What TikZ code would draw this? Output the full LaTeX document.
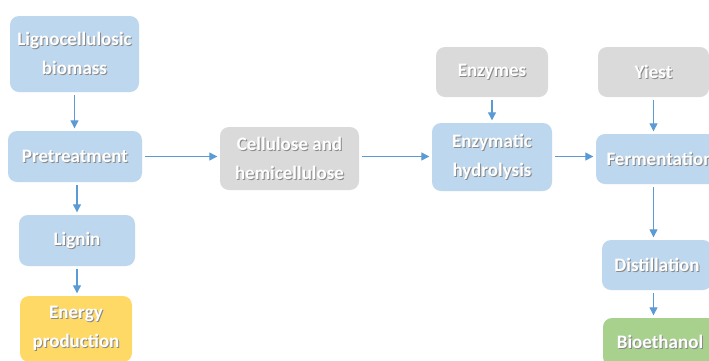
\documentclass[tikz,border=0pt]{standalone}
\usepackage{fontspec}
\setmainfont{Carlito}
\usetikzlibrary{arrows.meta}

\definecolor{boxblue}{HTML}{BDD7EE}
\definecolor{boxgray}{HTML}{DADADA}
\definecolor{boxyellow}{HTML}{FFD966}
\definecolor{boxgreen}{HTML}{A9D18E}
\definecolor{flowblue}{HTML}{5B9BD5}
\definecolor{txtshadow}{HTML}{8A8A8A}

% white label text with a small drop shadow
\newcommand\shd[1]{\leavevmode\rlap{\kern1pt\raisebox{-1pt}{\textcolor{txtshadow}{#1}}}#1}

\tikzset{
  stagebox/.style={rectangle, rounded corners=9pt, draw=none, text=white,
    align=center, inner sep=0pt,
    font=\fontsize{19}{29}\selectfont\bfseries},
  bluebox/.style={stagebox, fill=boxblue},
  graybox/.style={stagebox, fill=boxgray},
  yellowbox/.style={stagebox, fill=boxyellow},
  greenbox/.style={stagebox, fill=boxgreen},
  flow/.style={draw=flowblue, line width=1.2pt,
    -{Triangle[length=8pt,width=8pt]}, shorten <=3pt, shorten >=2.5pt}
}

\begin{document}
\begin{tikzpicture}[x=1pt, y=-1pt]
  \useasboundingbox (0,0) rectangle (709,360);
  \clip (0,0) rectangle (709,360);
  \fill[white] (0,0) rectangle (709,360);

  % left column
  \node[bluebox, minimum width=129pt, minimum height=76pt] (bio) at (74.5,54)
    {\shd{Lignocellulosic}\\\shd{biomass}};
  \node[bluebox, minimum width=134pt, minimum height=51pt] (pre) at (75,156.5)
    {\shd{Pretreatment}};
  \node[bluebox, minimum width=116pt, minimum height=51pt] (lig) at (77,240.5)
    {\shd{Lignin}};
  \node[yellowbox, minimum width=112pt, minimum height=66pt] (ene) at (76,329)
    {\shd{Energy}\\\shd{production}};

  % middle
  \node[graybox, minimum width=139pt, minimum height=63pt] (cel) at (289.5,158.5)
    {\shd{Cellulose and}\\\shd{hemicellulose}};
  \node[graybox, minimum width=112pt, minimum height=50pt] (enz) at (492,72)
    {\shd{Enzymes}};
  \node[bluebox, minimum width=120pt, minimum height=68pt] (hyd) at (492,157)
    {\shd{Enzymatic}\\\shd{hydrolysis}};

  % right column
  \node[graybox, minimum width=111pt, minimum height=50pt] (yie) at (653.5,72)
    {\shd{Yiest}};
  \node[bluebox, minimum width=128pt, minimum height=50pt] (fer) at (660,159)
    {\shd{Fermentation}};
  \node[bluebox, minimum width=110pt, minimum height=50pt] (dis) at (657,265)
    {\shd{Distillation}};
  \node[greenbox, minimum width=114pt, minimum height=48pt] (eth) at (660,342)
    {\shd{Bioethanol}};

  % connectors
  \draw[flow] (bio.south) -- (bio.south |- pre.north);
  \draw[flow] (pre.south -| lig.south) -- (lig.north);
  \draw[flow] (lig.south) -- (lig.south |- ene.north);
  \draw[flow] (pre.east) -- (pre.east -| cel.west);
  \draw[flow] (cel.east |- pre.east) -- (pre.east -| hyd.west);
  \draw[flow] (enz.south) -- (hyd.north);
  \draw[flow] (hyd.east |- pre.east) -- (pre.east -| fer.west);
  \draw[flow] (yie.south) -- (yie.south |- fer.north);
  \draw[flow] (fer.south -| yie.south) -- (yie.south |- dis.north);
  \draw[flow] (dis.south -| yie.south) -- (yie.south |- eth.north);
\end{tikzpicture}
\end{document}
